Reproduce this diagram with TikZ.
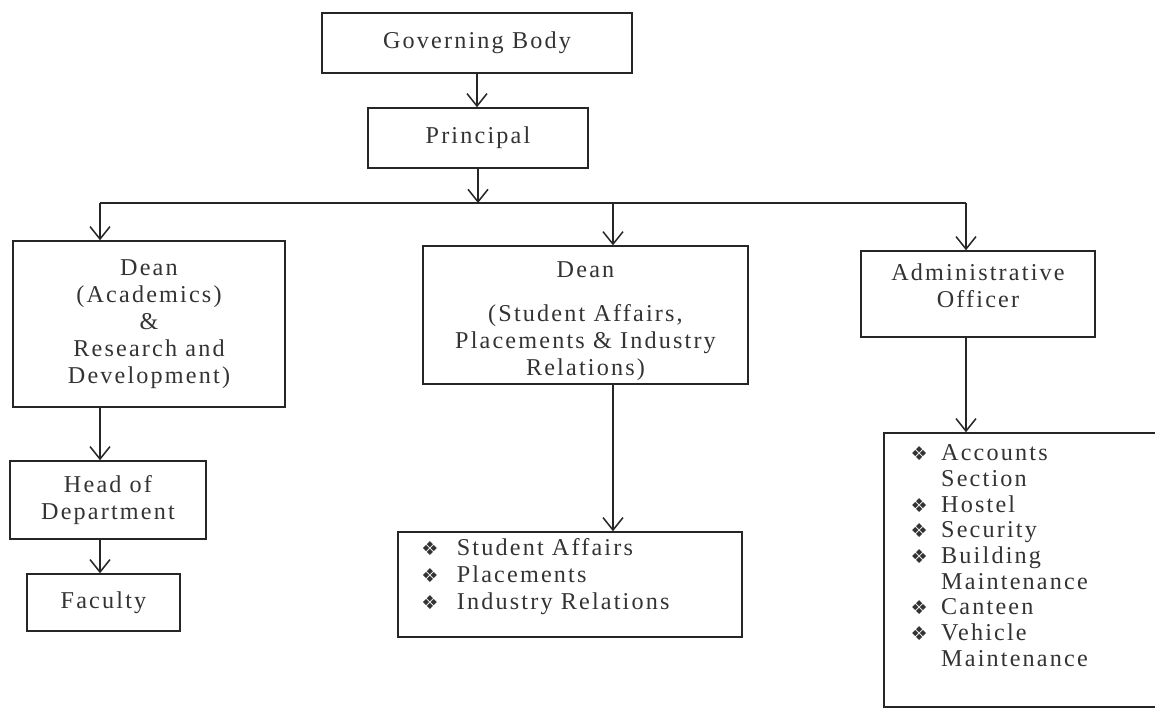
\documentclass[tikz,border=0pt]{standalone}
\usepackage{fontspec}
\setmainfont{Liberation Serif}[LetterSpace=9]
\newfontfamily\symfont{DejaVu Sans}
\usetikzlibrary{arrows.meta}
\newcommand{\dia}{{\symfont\fontsize{11.5}{11.5}\selectfont ❖}}
\tikzset{
  box/.style={draw=black!85, line width=0.9pt, align=center, text=black!80,
    font=\fontsize{14.5}{16.2}\selectfont, inner sep=2pt},
  link/.style={draw=black!85, line width=0.9pt},
  arr/.style={link, -{Straight Barb[length=7.5pt,width=12pt,line width=0.9pt]}}
}
\begin{document}
\begin{tikzpicture}[x=0.6pt, y=-0.6pt]
    \useasboundingbox (0,0) rectangle (1155,709);
    \clip (0,0) rectangle (1155,709);
    \fill[white] (0,0) rectangle (1155,709);
    % top of the chart
    \node[box, minimum width=186pt, minimum height=36pt] (gov) at (477,43) {Governing Body};
    \node[box, minimum width=132pt, minimum height=36pt] (prin) at (478,138) {Principal};
    % the three branches
    \node[box, minimum width=163.2pt, minimum height=99.6pt] (deanA) at (149,324)
        {Dean\\(Academics)\\\&\\Research and\\Development)};
    \node[box, minimum width=195pt, minimum height=81.6pt] (deanS) at (585.5,315)
        {\rule{0pt}{17pt}Dean\\[10pt](Student Affairs,\\Placements \& Industry\\Relations)};
    \node[box, minimum width=140.4pt, minimum height=51.6pt] (admin) at (978,294)
        {Administrative\\Officer\\[-6pt]};
    % lower level
    \node[box, minimum width=117.6pt, minimum height=46.8pt] (hod) at (108,500) {Head of\\Department};
    \node[box, minimum width=91.8pt, minimum height=34.2pt] (fac) at (103.5,602.5) {Faculty};
    \node[box, inner sep=0pt] (listS) at (570,584.5)
        {\begin{minipage}[c][63pt][t]{206.4pt}\vspace{3pt}\hspace*{14pt}%
         \begin{tabular}{@{}l@{\hspace{11pt}}l@{}}
         \dia & Student Affairs\\
         \dia & Placements\\
         \dia & Industry Relations
         \end{tabular}\end{minipage}};
    \node[box, inner sep=0pt] (listA) at (1022,570)
        {\begin{minipage}[c][164.4pt][t]{165.6pt}\vspace{6pt}\hspace*{16pt}%
         \renewcommand{\arraystretch}{0.95}%
         \begin{tabular}{@{}l@{\hspace{8pt}}l@{}}
         \dia & Accounts\\
              & Section\\
         \dia & Hostel\\
         \dia & Security\\
         \dia & Building\\
              & Maintenance\\
         \dia & Canteen\\
         \dia & Vehicle\\
              & Maintenance
         \end{tabular}\end{minipage}};
    % connectors
    \coordinate (bus) at (478,203);
    \coordinate (busA) at (100,203);
    \coordinate (busS) at (613,203);
    \coordinate (busO) at (966,203);
    \draw[arr] (gov.south) -- (gov.south |- prin.north);
    \draw[arr] (prin) -- (bus);
    \draw[link] (busA) -- (busO);
    \draw[arr] (busA) -- (busA |- deanA.north);
    \draw[arr] (busS) -- (busS |- deanS.north);
    \draw[arr] (busO) -- (busO |- admin.north);
    \draw[arr] (busA |- deanA.south) -- (busA |- hod.north);
    \draw[arr] (busA |- hod.south) -- (busA |- fac.north);
    \draw[arr] (busS |- deanS.south) -- (busS |- listS.north);
    \draw[arr] (busO |- admin.south) -- (busO |- listA.north);
\end{tikzpicture}
\end{document}
